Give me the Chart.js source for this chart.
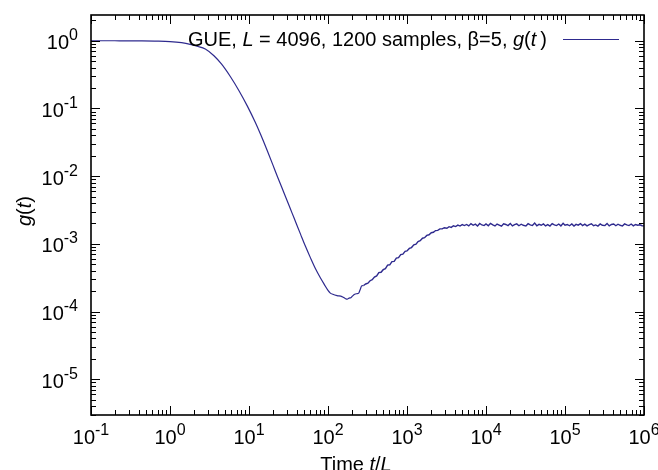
<!DOCTYPE html>
<html>
<head>
<meta charset="utf-8">
<title>GUE g(t)</title>
<script src="https://cdn.jsdelivr.net/npm/chart.js@4.4.1/dist/chart.umd.min.js"></script>
<style>
  html, body { margin: 0; padding: 0; background: #fff; }
  #wrap { width: 658px; height: 470px; position: relative; }
</style>
</head>
<body>
<div id="wrap"><canvas id="gChart"></canvas></div>
<script>
// values (time t/L, g(t))
// smooth decay down to the dip
const tDecay = [0.1, 0.2, 0.4, 0.7, 1.0, 1.4, 1.8, 2.2, 2.8, 3.6, 4.5, 5.8, 7.5, 9.5, 12, 14, 17, 20, 23, 28,
  33, 37, 45, 52, 60, 70, 80, 90, 100, 107, 115, 130, 150, 165, 175, 185, 195, 205, 215, 230,
  245, 255, 268, 282];
const gDecay = [1.0, 0.999, 0.996, 0.988, 0.972, 0.935, 0.885, 0.83, 0.755, 0.60, 0.45, 0.296, 0.181, 0.109, 0.0624, 0.0414, 0.0239, 0.0148, 0.0097, 0.0055,
  0.0034, 0.00244, 0.00138, 9.1e-4, 6.2e-4, 4.2e-4, 3.15e-4, 2.5e-4, 2.05e-4, 1.87e-4, 1.80e-4, 1.72e-4, 1.66e-4, 1.56e-4, 1.52e-4, 1.58e-4, 1.60e-4, 1.70e-4, 1.78e-4, 1.83e-4,
  1.87e-4, 2.1e-4, 2.4e-4, 2.42e-4];

// noisy ramp up to the plateau
const tRise = [300, 320, 341, 363, 387, 413, 440, 469, 500, 533, 568, 605, 645, 688, 733, 781, 833, 887, 946, 1000,
  1070, 1140, 1220, 1300, 1380, 1470, 1570, 1670, 1780, 1900, 2030, 2160, 2300, 2450, 2610, 2790, 2970, 3200, 3410, 3630,
  3870, 4130, 4400, 4690, 5000, 5330];
const gRise = [2.55e-4, 2.62e-4, 2.85e-4, 2.95e-4, 3.22e-4, 3.35e-4, 3.75e-4, 3.80e-4, 4.15e-4, 4.30e-4, 4.85e-4, 4.90e-4, 5.45e-4, 5.50e-4, 6.15e-4, 6.25e-4, 6.95e-4, 7.05e-4, 7.75e-4, 7.85e-4,
  8.55e-4, 8.80e-4, 9.65e-4, 9.90e-4, 1.08e-3, 1.11e-3, 1.21e-3, 1.23e-3, 1.33e-3, 1.36e-3, 1.46e-3, 1.48e-3, 1.57e-3, 1.58e-3, 1.66e-3, 1.66e-3, 1.73e-3, 1.70e-3, 1.79e-3, 1.75e-3,
  1.85e-3, 1.80e-3, 1.89e-3, 1.83e-3, 1.92e-3, 1.86e-3];

// plateau
const tPlateau = [5680, 6050, 6450, 6880, 7330, 7810, 8330, 8870, 9460, 10000, 10700, 11400, 12200, 13000, 13800, 14700, 15700, 16700, 17800, 19000,
  20300, 21600, 23000, 24500, 26100, 27900, 29700, 32000, 34100, 36300, 38700, 41300, 44000, 46900, 50000, 53300, 56800, 60500, 64500, 68800,
  73300, 78100, 83300, 88700, 94600, 100000, 107000, 114000, 122000, 130000, 138000, 147000, 157000, 167000, 178000, 190000, 203000, 216000, 230000, 245000,
  261000, 279000, 297000, 320000, 341000, 363000, 387000, 413000, 440000, 469000, 500000, 533000, 568000, 605000, 645000, 688000, 733000, 781000, 833000, 887000,
  946000, 1000000];
const gPlateau = [1.93e-3, 1.84e-3, 1.99e-3, 1.88e-3, 1.95e-3, 1.83e-3, 2.00e-3, 1.90e-3, 1.86e-3, 1.97e-3, 1.85e-3, 2.01e-3, 1.91e-3, 1.84e-3, 1.96e-3, 1.89e-3, 1.82e-3, 1.98e-3, 1.93e-3, 1.86e-3,
  1.99e-3, 1.84e-3, 1.92e-3, 1.97e-3, 1.85e-3, 1.95e-3, 1.88e-3, 1.83e-3, 1.98e-3, 1.90e-3, 1.86e-3, 2.02e-3, 1.85e-3, 1.94e-3, 1.88e-3, 1.97e-3, 1.84e-3, 1.92e-3, 1.83e-3, 1.99e-3,
  1.90e-3, 1.86e-3, 1.96e-3, 1.84e-3, 2.01e-3, 1.88e-3, 1.93e-3, 1.85e-3, 1.97e-3, 1.83e-3, 1.94e-3, 1.89e-3, 1.99e-3, 1.86e-3, 1.95e-3, 1.84e-3, 1.92e-3, 1.98e-3, 1.85e-3, 1.90e-3,
  1.83e-3, 1.97e-3, 1.88e-3, 1.86e-3, 1.99e-3, 1.84e-3, 1.93e-3, 1.96e-3, 1.85e-3, 1.95e-3, 1.88e-3, 1.83e-3, 1.97e-3, 1.90e-3, 1.86e-3, 1.96e-3, 1.84e-3, 1.93e-3, 1.88e-3, 1.91e-3,
  1.85e-3, 1.84e-3];

// axis decades that get a 10^n label
const xTickExponents = [-1, 0, 1, 2, 3, 4, 5, 6];
const yTickExponents = [0, -1, -2, -3, -4, -5];

const legendParts = [
  { text: 'GUE, ' }, { text: 'L', italic: true }, { text: ' = 4096, 1200 samples, \u03b2=5, ' },
  { text: 'g', italic: true }, { text: '(' }, { text: 't', italic: true }, { text: '\u2009)' }
];
const yTitleParts = [{ text: 'g', italic: true }, { text: '(' }, { text: 't', italic: true }, { text: ')' }];
const xTitleParts = [{ text: 'Time ' }, { text: 't', italic: true }, { text: '/' }, { text: 'L', italic: true }];

const lineColor = '#2e2a8e';
const FONT = '"Liberation Sans", Arial, Helvetica, sans-serif';

const decayPoints = tDecay.map((t, i) => ({ x: t, y: gDecay[i] }));
// the noisy part starts from the last point of the decay so the line is continuous
const noisyT = [tDecay[tDecay.length - 1]].concat(tRise, tPlateau);
const noisyG = [gDecay[gDecay.length - 1]].concat(gRise, gPlateau);
const noisyPoints = noisyT.map((t, i) => ({ x: t, y: noisyG[i] }));

function fontOf(size, italic) {
  return (italic ? 'italic ' : '') + size + 'px ' + FONT;
}

// draw a run of text pieces (some italic / superscript) on one baseline
function drawRich(ctx, parts, x, y, size, align) {
  let w = 0;
  parts.forEach(p => { ctx.font = fontOf(p.size || size, p.italic); w += ctx.measureText(p.text).width; });
  let cx = align === 'right' ? x - w : align === 'center' ? x - w / 2 : x;
  parts.forEach(p => {
    ctx.font = fontOf(p.size || size, p.italic);
    ctx.fillText(p.text, cx, y - (p.rise || 0));
    cx += ctx.measureText(p.text).width;
  });
}

function powerParts(exp) {
  return [{ text: '10' }, { text: String(exp), size: 16, rise: 9 }];
}

// gnuplot style frame: inward ticks on all four sides, 10^n labels, key
const gnuplotFrame = {
  id: 'gnuplotFrame',
  afterDatasetsDraw(chart) {
    const { ctx, chartArea: a, scales: { x, y } } = chart;
    ctx.save();
    ctx.strokeStyle = '#000';
    ctx.fillStyle = '#000';
    ctx.textAlign = 'left';
    ctx.textBaseline = 'alphabetic';

    ctx.lineWidth = 1;
    ctx.beginPath();
    for (let e = -7; e <= 6; e++) {
      for (let k = 1; k <= 9; k++) {
        const v = k * Math.pow(10, e);
        const len = k === 1 ? 9 : 5;
        if (v >= x.min * 0.999 && v <= x.max * 1.001) {
          const px = Math.round(x.getPixelForValue(v)) + 0.5;
          ctx.moveTo(px, a.bottom); ctx.lineTo(px, a.bottom - len);
          ctx.moveTo(px, a.top); ctx.lineTo(px, a.top + len);
        }
        if (v >= y.min && v <= y.max) {
          const py = Math.round(y.getPixelForValue(v)) + 0.5;
          ctx.moveTo(a.left, py); ctx.lineTo(a.left + len, py);
          ctx.moveTo(a.right, py); ctx.lineTo(a.right - len, py);
        }
      }
    }
    ctx.stroke();

    ctx.lineWidth = 1.6;
    ctx.strokeRect(a.left, a.top, a.right - a.left, a.bottom - a.top);

    xTickExponents.forEach(e => {
      drawRich(ctx, powerParts(e), x.getPixelForValue(Math.pow(10, e)), a.bottom + 29, 20, 'center');
    });
    yTickExponents.forEach(e => {
      drawRich(ctx, powerParts(e), a.left - 13, y.getPixelForValue(Math.pow(10, e)) + 8.5, 20, 'right');
    });

    // axis titles
    drawRich(ctx, xTitleParts, 356, 471, 20, 'center');
    ctx.save();
    ctx.translate(31, 211);
    ctx.rotate(-Math.PI / 2);
    drawRich(ctx, yTitleParts, 0, 0, 20, 'center');
    ctx.restore();

    // key
    drawRich(ctx, legendParts, 547, 46, 20, 'right');
    ctx.strokeStyle = chart.data.datasets[0].borderColor;
    ctx.lineWidth = 1.2;
    ctx.beginPath();
    ctx.moveTo(563, 39.5);
    ctx.lineTo(619, 39.5);
    ctx.stroke();
    ctx.restore();
  }
};

new Chart(document.getElementById('gChart'), {
  type: 'line',
  data: {
    datasets: [{
      label: 'GUE, L = 4096, 1200 samples, \u03b2=5, g(t)',
      data: decayPoints,
      borderColor: lineColor,
      borderWidth: 1.2,
      pointRadius: 0,
      fill: false,
      cubicInterpolationMode: 'monotone'
    }, {
      label: 'noisy tail',
      data: noisyPoints,
      borderColor: lineColor,
      borderWidth: 1.4,
      pointRadius: 0,
      fill: false,
      tension: 0
    }]
  },
  options: {
    responsive: true,
    maintainAspectRatio: false,
    animation: false,
    layout: { padding: { left: 91, top: 15, right: 14, bottom: 55 } },
    plugins: {
      legend: { display: false },
      tooltip: { enabled: false }
    },
    scales: {
      x: { type: 'logarithmic', min: 0.1, max: 1e6, display: false },
      y: { type: 'logarithmic', min: 2.96e-6, max: 2.4, display: false }
    }
  },
  plugins: [gnuplotFrame]
});
</script>
</body>
</html>
